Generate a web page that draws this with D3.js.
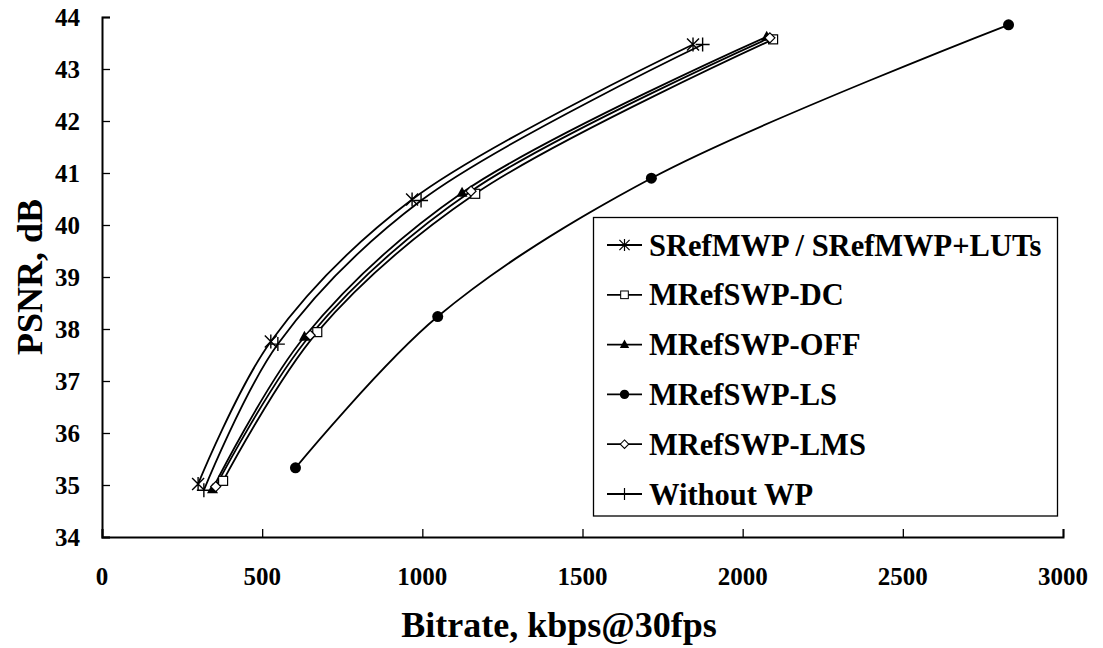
<!DOCTYPE html>
<html>
<head>
<meta charset="utf-8">
<script src="https://cdn.jsdelivr.net/npm/d3@7"></script>
<style>
  body { margin: 0; background: #fff; }
</style>
</head>
<body>
<svg id="chart" width="1103" height="648"></svg>
<script>
// series names, in legend order
var seriesNames = ['SRefMWP / SRefMWP+LUTs', 'MRefSWP-DC', 'MRefSWP-OFF', 'MRefSWP-LS', 'MRefSWP-LMS', 'Without WP'];
var markers = ['star', 'square', 'triangle', 'circle', 'diamond', 'plus'];

// bitrate (kbps) and PSNR (dB)
var srefBitrate = [300, 527, 968, 1845];
var srefPsnr    = [35.02, 37.76, 40.49, 43.47];
var dcBitrate   = [378, 672, 1165, 2095];
var dcPsnr      = [35.08, 37.94, 40.60, 43.57];
var offBitrate  = [345, 632, 1124, 2075];
var offPsnr     = [34.92, 37.85, 40.62, 43.62];
var lsBitrate   = [604, 1048, 1715, 2830];
var lsPsnr      = [35.33, 38.24, 40.90, 43.85];
var lmsBitrate  = [355, 650, 1152, 2085];
var lmsPsnr     = [34.97, 37.88, 40.65, 43.60];
var nowpBitrate = [318, 549, 996, 1875];
var nowpPsnr    = [34.90, 37.71, 40.47, 43.47];

var xTicks = [0, 500, 1000, 1500, 2000, 2500, 3000];
var yTicks = [34, 35, 36, 37, 38, 39, 40, 41, 42, 43, 44];

var bitrates = [srefBitrate, dcBitrate, offBitrate, lsBitrate, lmsBitrate, nowpBitrate];
var psnrs = [srefPsnr, dcPsnr, offPsnr, lsPsnr, lmsPsnr, nowpPsnr];

var series = seriesNames.map(function(name, i) {
  return {
    name: name,
    marker: markers[i],
    points: bitrates[i].map(function(b, j) { return [b, psnrs[i][j]]; })
  };
});

var FONT = "'Liberation Serif', 'Times New Roman', 'DejaVu Serif', serif";

var svg = d3.select('#chart');
var x = d3.scaleLinear().domain([0, 3000]).range([102, 1063]);
var y = d3.scaleLinear().domain([34, 44]).range([537, 17]);

function label(sel, size) {
  return sel.style('font-family', FONT).style('font-weight', 'bold')
    .style('font-size', size + 'px').attr('fill', '#000');
}

// axes, ticks pointing inward
var xAxis = svg.append('g').attr('transform', 'translate(0,' + y(34) + ')')
  .call(d3.axisTop(x).tickValues(xTicks).tickSize(8).tickFormat(''));
var yAxis = svg.append('g').attr('transform', 'translate(' + x(0) + ',0)')
  .call(d3.axisRight(y).tickValues(yTicks).tickSize(8).tickFormat(''));
[xAxis, yAxis].forEach(function(a) {
  a.select('.domain').attr('stroke', '#000').attr('stroke-width', 2);
  a.selectAll('.tick line').attr('stroke', '#000').attr('stroke-width', 1.3);
});

svg.append('g').selectAll('text').data(xTicks).join('text')
  .attr('x', function(d) { return x(d); })
  .attr('y', 585)
  .attr('text-anchor', 'middle')
  .call(label, 25)
  .text(function(d) { return d; });

svg.append('g').selectAll('text').data(yTicks).join('text')
  .attr('x', 80)
  .attr('y', function(d) { return y(d) + 9; })
  .attr('text-anchor', 'end')
  .call(label, 25)
  .text(function(d) { return d; });

svg.append('text')
  .attr('x', 559).attr('y', 637)
  .attr('text-anchor', 'middle')
  .call(label, 36)
  .text('Bitrate, kbps@30fps');

svg.append('text')
  .attr('transform', 'translate(42,277) rotate(-90)')
  .attr('text-anchor', 'middle')
  .call(label, 36)
  .text('PSNR, dB');

var line = d3.line()
  .x(function(d) { return x(d[0]); })
  .y(function(d) { return y(d[1]); })
  .curve(d3.curveCatmullRom.alpha(0.5));

var plot = svg.append('g');
plot.selectAll('path.series').data(series).join('path')
  .attr('class', 'series')
  .attr('d', function(d) { return line(d.points); })
  .attr('fill', 'none')
  .attr('stroke', '#000')
  .attr('stroke-width', 1.8);

function drawMarker(g, type) {
  if (type === 'star') {
    g.append('path').attr('d', 'M-6,-6L6,6M-6,6L6,-6M0,-7L0,7')
      .attr('stroke', '#000').attr('stroke-width', 1.4).attr('fill', 'none');
  } else if (type === 'plus') {
    g.append('path').attr('d', 'M-7,0L7,0M0,-7L0,7')
      .attr('stroke', '#000').attr('stroke-width', 1.4).attr('fill', 'none');
  } else if (type === 'square') {
    g.append('rect').attr('x', -4.5).attr('y', -4.5).attr('width', 9).attr('height', 9)
      .attr('fill', '#fff').attr('stroke', '#000').attr('stroke-width', 1.2);
  } else if (type === 'diamond') {
    g.append('path').attr('d', 'M0,-5L5,0L0,5L-5,0Z')
      .attr('fill', '#fff').attr('stroke', '#000').attr('stroke-width', 1.2);
  } else if (type === 'triangle') {
    g.append('path').attr('d', 'M0,-6L5.5,4L-5.5,4Z').attr('fill', '#000');
  } else if (type === 'circle') {
    g.append('circle').attr('r', 5.5).attr('fill', '#000');
  }
}

series.forEach(function(s) {
  s.points.forEach(function(p) {
    var g = plot.append('g').attr('transform', 'translate(' + x(p[0]) + ',' + y(p[1]) + ')');
    drawMarker(g, s.marker);
  });
});

// legend
var legend = svg.append('g');
legend.append('rect')
  .attr('x', 593.5).attr('y', 217.5).attr('width', 464).attr('height', 298.5)
  .attr('fill', '#fff').attr('stroke', '#000').attr('stroke-width', 1.3);

var item = legend.selectAll('g.item').data(series).join('g')
  .attr('class', 'item')
  .attr('transform', function(d, i) { return 'translate(0,' + (245 + i * 49.8) + ')'; });
item.append('line')
  .attr('x1', 607).attr('x2', 642)
  .attr('stroke', '#000').attr('stroke-width', 1.8);
item.each(function(d) {
  var g = d3.select(this).append('g').attr('transform', 'translate(624.5,0) scale(0.85)');
  drawMarker(g, d.marker);
});
item.append('text')
  .attr('x', 649).attr('y', 10.5)
  .call(label, 30.5)
  .text(function(d) { return d.name; });
</script>
</body>
</html>
